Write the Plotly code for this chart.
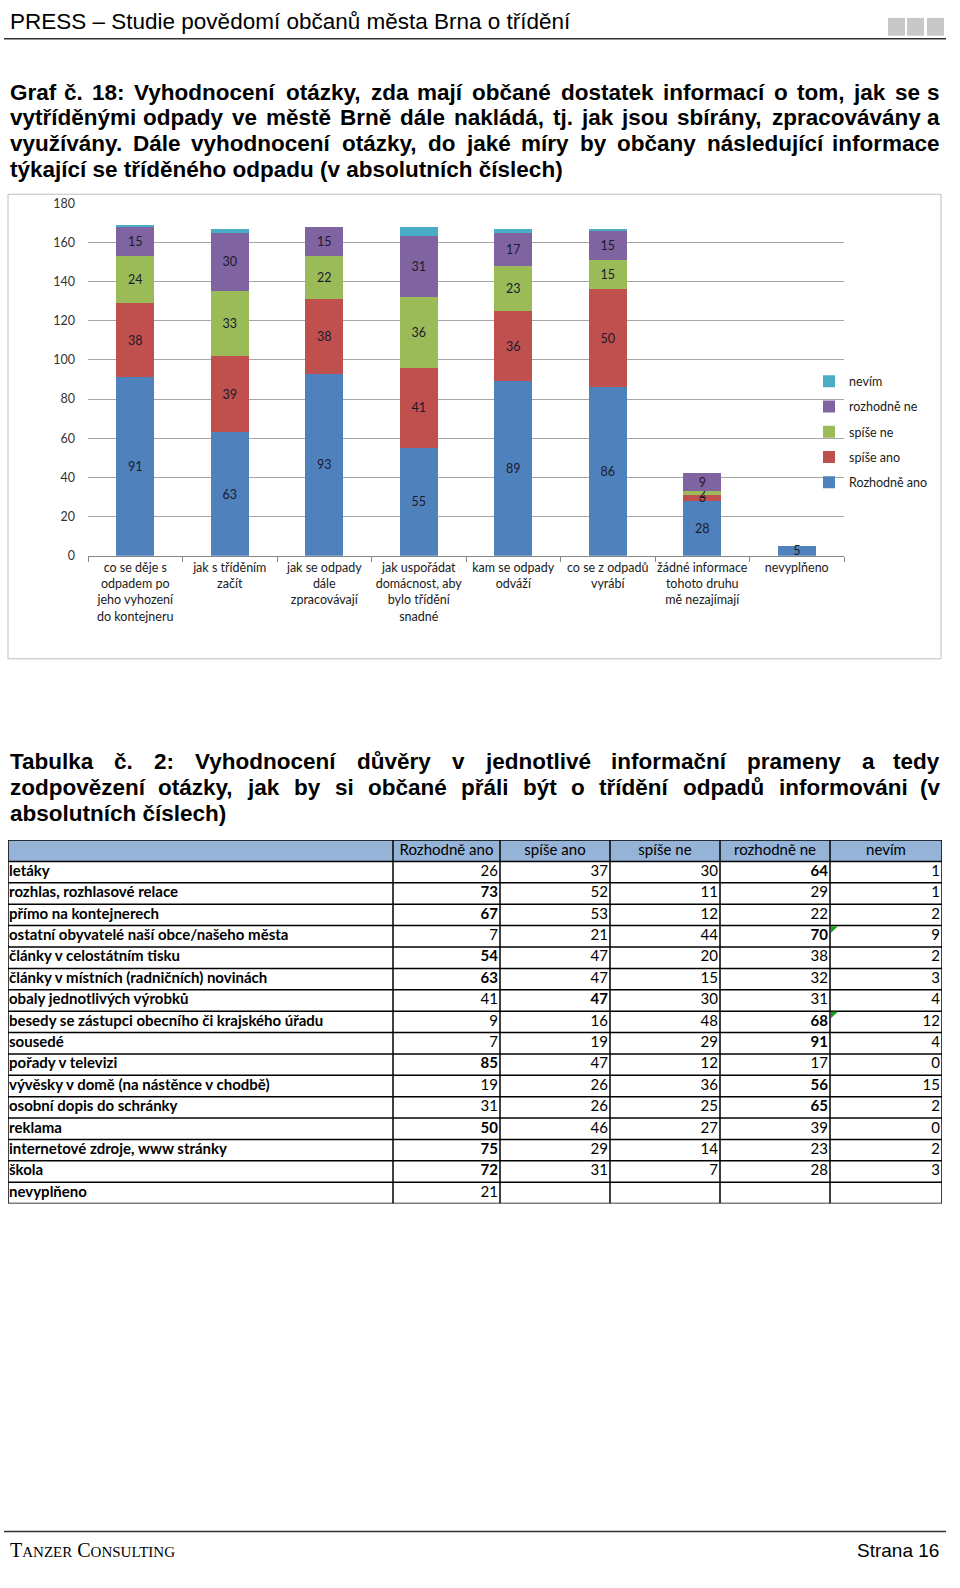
import plotly.graph_objects as go
import unicodedata

# ---------------- DATA ----------------
categories = [
    "co se děje s<br>odpadem po<br>jeho vyhození<br>do kontejneru",
    "jak s tříděním<br>začít",
    "jak se odpady<br>dále<br>zpracovávají",
    "jak uspořádat<br>domácnost, aby<br>bylo třídění<br>snadné",
    "kam se odpady<br>odváží",
    "co se z odpadů<br>vyrábí",
    "žádné informace<br>tohoto druhu<br>mě nezajímají",
    "nevyplňeno",
]
rozhodne_ano = [91, 63, 93, 55, 89, 86, 28, 5]
spise_ano = [38, 39, 38, 41, 36, 50, 3, 0]
spise_ne = [24, 33, 22, 36, 23, 15, 2, 0]
rozhodne_ne = [15, 30, 15, 31, 17, 15, 9, 0]
nevim = [1, 2, 0, 5, 2, 1, 0, 0]
y_ticks = [0, 20, 40, 60, 80, 100, 120, 140, 160, 180]

table_columns = ["Rozhodně ano", "spíše ano", "spíše ne", "rozhodně ne", "nevím"]
table_rows = [
    "letáky", "rozhlas, rozhlasové relace", "přímo na kontejnerech",
    "ostatní obyvatelé naší obce/našeho města", "články v celostátním tisku",
    "články v místních (radničních) novinách", "obaly jednotlivých výrobků",
    "besedy se zástupci obecního či krajského úřadu", "sousedé", "pořady v televizi",
    "vývěsky v domě (na nástěnce v chodbě)", "osobní dopis do schránky", "reklama",
    "internetové zdroje, www stránky", "škola", "nevyplňeno",
]
t_rozhodne_ano = [26, 73, 67, 7, 54, 63, 41, 9, 7, 85, 19, 31, 50, 75, 72, 21]
t_spise_ano = [37, 52, 53, 21, 47, 47, 47, 16, 19, 47, 26, 26, 46, 29, 31, None]
t_spise_ne = [30, 11, 12, 44, 20, 15, 30, 48, 29, 12, 36, 25, 27, 14, 7, None]
t_rozhodne_ne = [64, 29, 22, 70, 38, 32, 31, 68, 91, 17, 56, 65, 39, 23, 28, None]
t_nevim = [1, 1, 2, 9, 2, 3, 4, 12, 4, 0, 15, 2, 0, 2, 3, None]
flagged_cells = [("ostatní obyvatelé naší obce/našeho města", 5),
                 ("besedy se zástupci obecního či krajského úřadu", 5)]

# ---------------- helpers ----------------
W, H = 960, 1588


def px(x):
    return x / W


def py(y):
    return 1 - y / H


ARIAL_BOLD = {
    ' ': 278, '!': 333, '(': 333, ')': 333, ',': 278, '.': 278, '/': 278, ':': 333,
    '–': 556, '-': 333,
    'A': 722, 'B': 722, 'C': 722, 'D': 722, 'E': 667, 'F': 611, 'G': 778, 'H': 722,
    'I': 278, 'J': 556, 'K': 722, 'L': 611, 'M': 833, 'N': 722, 'O': 778, 'P': 667,
    'Q': 778, 'R': 722, 'S': 667, 'T': 611, 'U': 722, 'V': 667, 'W': 944, 'X': 667,
    'Y': 667, 'Z': 611,
    'a': 556, 'b': 611, 'c': 556, 'd': 611, 'e': 556, 'f': 333, 'g': 611, 'h': 611,
    'i': 278, 'j': 278, 'k': 556, 'l': 278, 'm': 889, 'n': 611, 'o': 611, 'p': 611,
    'q': 611, 'r': 389, 's': 556, 't': 333, 'u': 611, 'v': 556, 'w': 778, 'x': 556,
    'y': 556, 'z': 500,
}


def word_width(word, size):
    total = 0
    for ch in word:
        if ch.isdigit():
            total += 556
            continue
        base = unicodedata.normalize('NFD', ch)[0]
        total += ARIAL_BOLD.get(ch, ARIAL_BOLD.get(base, 556))
    return total * size / 1000.0


annotations = []
TITLE_FONT = dict(family="Liberation Sans", size=22.5, color="#000000")


def text_line(text, y, justify, left=8, right=942):
    if not justify:
        annotations.append(dict(text="<b>" + text + "</b>", x=px(left), y=py(y),
                                xref="paper", yref="paper", xanchor="left", yanchor="middle",
                                showarrow=False, font=TITLE_FONT))
        return
    words = text.split(" ")
    widths = [word_width(w, TITLE_FONT["size"]) for w in words]
    gap = (right - left - sum(widths)) / (len(words) - 1)
    x = left
    for i, (w, wd) in enumerate(zip(words, widths)):
        if i == 0:
            xa, xanchor = x, "left"
        elif i == len(words) - 1:
            xa, xanchor = right, "right"
        else:
            xa, xanchor = x + wd / 2, "center"
        annotations.append(dict(text="<b>" + w + "</b>", x=px(xa), y=py(y),
                                xref="paper", yref="paper", xanchor=xanchor, yanchor="middle",
                                showarrow=False, font=TITLE_FONT))
        x += wd + gap


# ---------------- figure ----------------
fig = go.Figure()

BAR_FONT = dict(family="Lato", size=12.5, color="#1a1a2a")
series = [
    ("Rozhodně ano", rozhodne_ano, "#4F81BD", True, 5),
    ("spíše ano", spise_ano, "#C0504D", True, 4),
    ("spíše ne", spise_ne, "#9BBB59", True, 3),
    ("rozhodně ne", rozhodne_ne, "#8064A2", True, 2),
    ("nevím", nevim, "#4BACC6", False, 1),
]
for name, vals, color, show_text, rank in series:
    fig.add_trace(go.Bar(
        x=categories, y=vals, name=name, marker=dict(color=color, line=dict(width=0)),
        text=[str(v) if (show_text and v > 0) else "" for v in vals],
        textposition="inside", insidetextanchor="middle", textfont=BAR_FONT,
        textangle=0, legendgroup=name, legendrank=rank, hoverinfo="x+y+name",
        xaxis="x", yaxis="y",
    ))

# ---------------- table (drawn on its own axes) ----------------
col_edges = [0, 385, 492, 602, 712, 822, 934]   # layout of the table, in px from its left
n_rows = len(table_rows) + 1
TFONT = dict(family="Lato", size=15, color="#000000")

fig.add_trace(go.Scatter(
    x=[(col_edges[i + 1] + col_edges[i + 2]) / 2 for i in range(len(table_columns))],
    y=[0] * len(table_columns), text=table_columns, mode="text",
    textposition="middle center", textfont=TFONT, showlegend=False, hoverinfo="skip",
    xaxis="x2", yaxis="y2"))
fig.add_trace(go.Scatter(
    x=[col_edges[0] + 1] * len(table_rows), y=list(range(1, n_rows)),
    text=["<b>%s</b>" % r for r in table_rows], mode="text",
    textposition="middle right", textfont=TFONT, showlegend=False, hoverinfo="skip",
    xaxis="x2", yaxis="y2"))
cols_vals = [t_rozhodne_ano, t_spise_ano, t_spise_ne, t_rozhodne_ne, t_nevim]
vx, vy, vt = [], [], []
for ri in range(len(table_rows)):
    row_vals = [c[ri] for c in cols_vals if c[ri] is not None]
    mx = max(row_vals)
    for ci, col in enumerate(cols_vals):
        v = col[ri]
        if v is None:
            continue
        vx.append(col_edges[ci + 2] - 2)
        vy.append(ri + 1)
        vt.append("<b>%d</b>" % v if (v == mx and len(row_vals) > 1) else str(v))
fig.add_trace(go.Scatter(
    x=vx, y=vy, text=vt, mode="text", textposition="middle left", textfont=TFONT,
    showlegend=False, hoverinfo="skip", xaxis="x2", yaxis="y2"))

# page header / titles
annotations.append(dict(text="PRESS – Studie povědomí občanů města Brna o třídění",
                        x=px(8), y=py(14), xref="paper", yref="paper", xanchor="left",
                        yanchor="middle", showarrow=False,
                        font=dict(family="Liberation Sans", size=22.5, color="#000000")))
text_line("Graf č. 18: Vyhodnocení otázky, zda mají občané dostatek informací o tom, jak se s", 85, True)
text_line("vytříděnými odpady ve městě Brně dále nakládá, tj. jak jsou sbírány, zpracovávány a", 111, True)
text_line("využívány. Dále vyhodnocení otázky, do jaké míry by občany následující informace", 137, True)
text_line("týkající se tříděného odpadu (v absolutních číslech)", 163, False)
text_line("Tabulka č. 2: Vyhodnocení důvěry v jednotlivé informační prameny a tedy", 761, True)
text_line("zodpovězení otázky, jak by si občané přáli být o třídění odpadů informováni (v", 787, True)
text_line("absolutních číslech)", 813, False)

annotations.append(dict(
    text='T<span style="font-size:15px">ANZER</span> C<span style="font-size:15px">ONSULTING</span>',
    x=px(8), y=py(1557), xref="paper", yref="paper", xanchor="left", yanchor="middle",
    showarrow=False, font=dict(family="Liberation Serif", size=20, color="#000000")))
annotations.append(dict(text="Strana 16", x=px(941), y=py(1557), xref="paper", yref="paper",
                        xanchor="right", yanchor="middle", showarrow=False,
                        font=dict(family="Liberation Sans", size=19, color="#000000")))

shapes = [
    dict(type="line", xref="paper", yref="paper", x0=px(4), x1=px(946), y0=py(31), y1=py(31),
         line=dict(color="#333333", width=1.5)),
    dict(type="line", xref="paper", yref="paper", x0=px(4), x1=px(946), y0=py(1538), y1=py(1538),
         line=dict(color="#333333", width=1.5)),
    dict(type="rect", xref="paper", yref="paper", x0=px(8), x1=px(941), y0=py(657), y1=py(188),
         line=dict(color="#BFBFBF", width=1)),
]
for x0 in (888, 907, 927):
    shapes.append(dict(type="rect", xref="paper", yref="paper", x0=px(x0), x1=px(x0 + 17),
                       y0=py(28), y1=py(10), fillcolor="#C8C8C8", line=dict(width=0)))

shapes.append(dict(type="rect", xref="x2", yref="y2", x0=col_edges[0], x1=col_edges[-1],
                   y0=-0.5, y1=0.5, fillcolor="#95B3D7", line=dict(width=0), layer="below"))
for r in range(n_rows + 1):
    shapes.append(dict(type="line", xref="x2", yref="y2", x0=col_edges[0], x1=col_edges[-1],
                       y0=r - 0.5, y1=r - 0.5, line=dict(color="#000000", width=1.5)))
for e in col_edges:
    shapes.append(dict(type="line", xref="x2", yref="y2", x0=e, x1=e,
                       y0=-0.5, y1=n_rows - 0.5, line=dict(color="#000000", width=1.5)))
# small green indicators in the top-left corner of flagged cells
for row_name, ci in flagged_cells:
    r = table_rows.index(row_name) + 1
    x0 = col_edges[ci]
    shapes.append(dict(type="path", xref="x2", yref="y2",
                       path="M %f %f L %f %f L %f %f Z" % (x0 + 1, r - 0.47, x0 + 8, r - 0.47,
                                                         x0 + 1, r - 0.17),
                       fillcolor="#1E9E1E", line=dict(width=0)))

fig.update_layout(
    width=W, height=H, margin=dict(l=0, r=0, t=0, b=0),
    paper_bgcolor="#FFFFFF", plot_bgcolor="rgba(0,0,0,0)",
    barmode="stack", bargap=0.6,
    uniformtext=dict(minsize=12, mode="show"),
    showlegend=True,
    legend=dict(x=px(809), y=py(362), xanchor="left", yanchor="top",
                traceorder="grouped", tracegroupgap=6, itemwidth=30,
                font=dict(family="Lato", size=12.5, color="#1a1a1a"),
                bgcolor="rgba(0,0,0,0)"),
    xaxis=dict(domain=[px(88), px(844)], anchor="y", type="category",
               showline=True, linecolor="#868686", linewidth=1, tickangle=0,
               ticks="outside", tickson="boundaries", ticklen=5, tickcolor="#868686",
               tickfont=dict(family="Lato", size=12.5, color="#1a1a1a"),
               showgrid=False, fixedrange=True),
    yaxis=dict(domain=[py(553), py(197)], range=[0, 180], tickvals=y_ticks, anchor="x",
               showgrid=True, gridcolor="#A6A6A6", gridwidth=1, zeroline=False,
               showline=False, ticks="", ticklabelstandoff=12, fixedrange=True,
               tickfont=dict(family="Lato", size=12.5, color="#333333")),
    xaxis2=dict(domain=[px(8), px(942)], range=[0, 934], anchor="y2", visible=False,
                fixedrange=True),
    yaxis2=dict(domain=[py(1207), py(840)], range=[n_rows - 0.5, -0.5], anchor="x2",
                visible=False, fixedrange=True),
    annotations=annotations, shapes=shapes,
)

fig.write_html(
    "out.html",
    config={"displayModeBar": False},
    post_script=(
        "var s=document.createElement('style');"
        "s.textContent='html,body{margin:0;padding:0;overflow:hidden;width:960px;height:1588px;}';"
        "document.head.appendChild(s);"
    ),
)
